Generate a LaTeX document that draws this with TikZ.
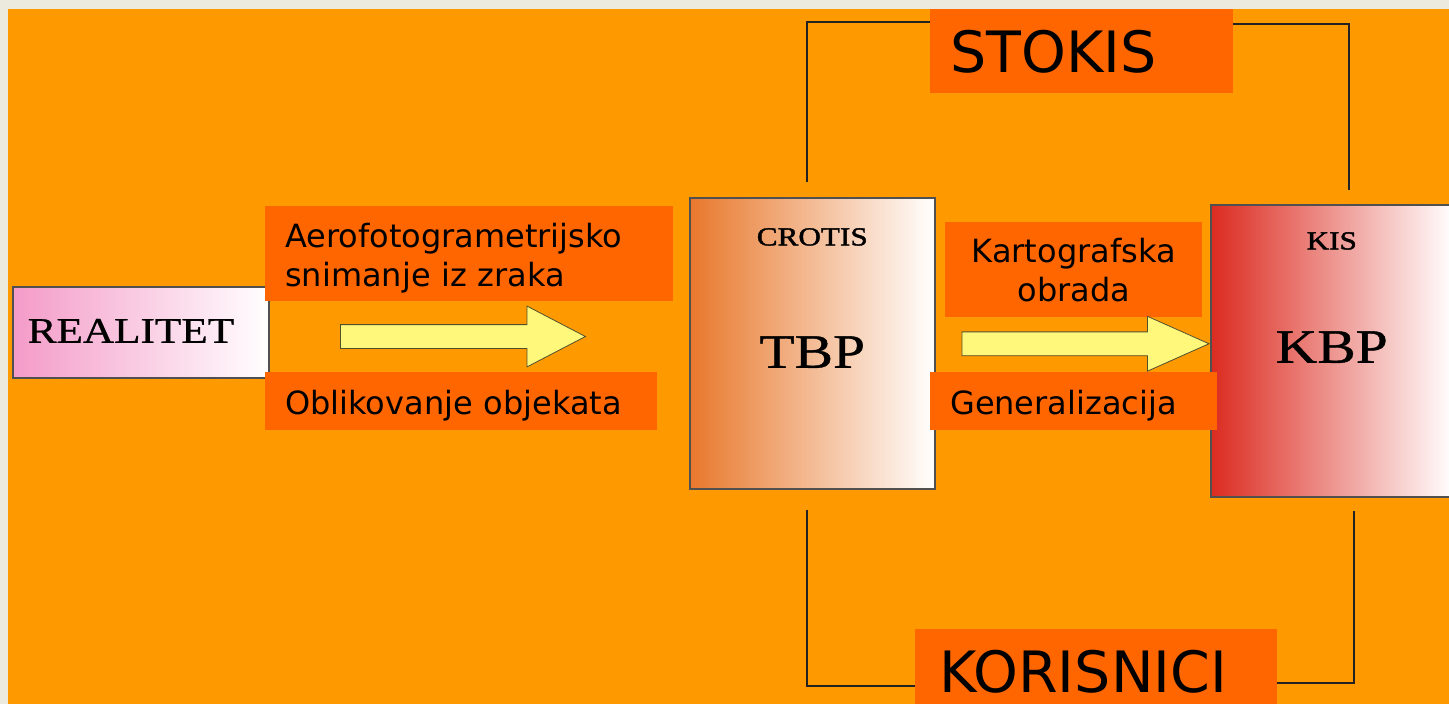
\documentclass[tikz,border=0pt]{standalone}
\usepackage{fontspec}
\setsansfont{DejaVu Sans}
\newfontfamily\boxfont[FakeStretch=1.2,FakeBold=0.8]{Liberation Serif}
\newfontfamily\boxfontheavy[FakeStretch=1.2,FakeBold=1.6]{Liberation Serif}
\usepackage{xcolor}
\usepackage{tikz}
\usetikzlibrary{shapes.arrows,positioning}

\definecolor{pagegray}{HTML}{ECEADF}
\definecolor{bgorange}{HTML}{FF9900}
\definecolor{lblorange}{HTML}{FF6600}
\definecolor{realpink}{HTML}{F49BC8}
\definecolor{crotisorange}{HTML}{E8782C}
\definecolor{kisred}{HTML}{DC2B20}
\definecolor{arrowfill}{HTML}{FFF87A}
\definecolor{arrowedge}{HTML}{505030}
\definecolor{wiregray}{HTML}{222222}
\definecolor{panelgray}{HTML}{505050}

\begin{document}
\begin{tikzpicture}[
            x=1pt, y=-1pt,
            lbl/.style={fill=lblorange, anchor=north west, inner xsep=20pt, inner ysep=0pt,
                font=\sffamily\fontsize{32}{39}\selectfont, align=left},
            biglbl/.style={lbl, font=\sffamily\fontsize{57}{60}\selectfont},
            panel/.style={draw=panelgray, line width=1.5pt, anchor=north west, inner sep=0pt,
                align=center, right color=white},
            paneltitle/.style={inner sep=0pt, font=\boxfontheavy\fontsize{26}{26}\selectfont},
            panelmain/.style={font=\boxfont\fontsize{48}{48}\selectfont},
            blockarrow/.style={single arrow, draw=arrowedge, fill=arrowfill, line width=0.8pt,
                inner sep=0pt, minimum width=0pt, text height=23pt, text depth=0pt},
            wire/.style={draw=wiregray, line width=2.2pt}
        ]
            % page and background
            \useasboundingbox (0,0) rectangle (1449,704);
            \fill[pagegray] (0,0) rectangle (1449,704);
            \fill[bgorange] (8,9) rectangle (1449,704);
            % panels
            \node[panel, left color=realpink, text width=226pt, inner xsep=15pt, align=left,
                text height=56pt, text depth=35pt,
                font=\boxfont\fontsize{36}{36}\selectfont] (realitet) at (12,286) {REALITET};
            \node[panel, panelmain, left color=crotisorange, text width=245pt,
                text height=170pt, text depth=121pt] (tbp) at (689,197) {TBP};
            \node[paneltitle, below=31pt of tbp.north] (crotis) {CROTIS};
            \node[panel, panelmain, left color=kisred, text width=242pt,
                text height=158pt, text depth=134pt] (kbp) at (1210,204) {KBP};
            \node[paneltitle, below=28pt of kbp.north] (kis) {KIS};
            % labels
            \node[lbl, text width=368pt, text height=41pt, text depth=54pt] (snimanje) at (265,206)
                {Aerofotogrametrijsko\\snimanje iz zraka};
            \node[lbl, text width=352pt, text height=42pt, text depth=16pt] (oblikovanje) at (265,372)
                {Oblikovanje objekata};
            \node[lbl, text width=217pt, minimum height=95pt, align=center] (obrada) at (945,222)
                {Kartografska\\obrada};
            \node[lbl, text width=247pt, text height=42pt, text depth=16pt] (general) at (930,372)
                {Generalizacija};
            \node[biglbl, text width=263pt, text height=63pt, text depth=21pt] (stokis) at (930,9)
                {STOKIS};
            \node[biglbl, text width=314pt, inner xsep=24pt, text height=63pt, text depth=12pt]
                (korisnici) at (915,629) {KORISNICI};
            % block arrows
            \node[blockarrow, anchor=tail, minimum height=245pt,
                single arrow head extend=18.5pt, single arrow tip angle=55] (arr1) at (340,336.5) {};
            \node[blockarrow, anchor=tip, minimum height=247pt,
                single arrow head extend=15.5pt, single arrow tip angle=48] (arr2)
                at ([yshift=7pt]kbp.west) {};
            % brackets
            \coordinate (stL) at (807,182);
            \coordinate (stR) at (1349,190);
            \coordinate (koL) at (807,510);
            \coordinate (koR) at (1354,511);
            \draw[wire] (stL) |- ([yshift=-13pt]stokis.north west);
            \draw[wire] ([yshift=-15pt]stokis.north east) -| (stR);
            \draw[wire] (koL) |- ([yshift=-19.5pt]korisnici.west);
            \draw[wire] ([yshift=-16.5pt]korisnici.east) -| (koR);
        \end{tikzpicture}
\end{document}
